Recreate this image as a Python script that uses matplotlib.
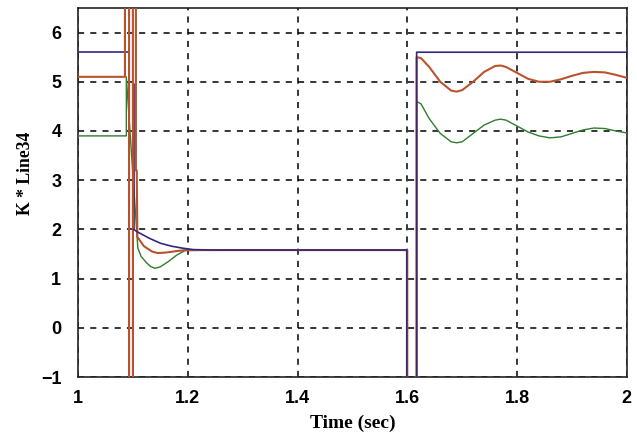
import matplotlib
matplotlib.use("Agg")
import matplotlib.pyplot as plt

# ---- data ----
navy_t = [1.0, 1.093, 1.093, 1.1, 1.1, 1.1015, 1.1015, 1.108, 1.13, 1.15, 1.17, 1.19, 1.21, 1.25, 1.599, 1.599, 1.617, 1.617, 2.0]
navy_v = [5.6, 5.6, -3.0, -3.0, 4.95, 4.95, 2.0, 1.95, 1.82, 1.72, 1.66, 1.62, 1.59, 1.58, 1.58, -3.0, -3.0, 5.6, 5.6]

orange_t = [1.0, 1.0855, 1.0855, 1.093, 1.093, 1.1, 1.1, 1.1055, 1.1055, 1.107, 1.108, 1.108, 1.12, 1.135, 1.145, 1.16, 1.18, 1.195, 1.25, 1.6,
            1.6, 1.617, 1.617, 1.625, 1.64, 1.66, 1.68, 1.69, 1.70, 1.72, 1.74, 1.76, 1.77, 1.78, 1.80, 1.82, 1.84, 1.86,
            1.88, 1.90, 1.92, 1.94, 1.96, 1.98, 2.0]
orange_v = [5.1, 5.1, 8.0, 8.0, -3.0, -3.0, 8.0, 8.0, 3.2, 3.2, 2.0, 1.85, 1.66, 1.55, 1.52, 1.53, 1.56, 1.58, 1.58, 1.58,
            -3.0, -3.0, 5.5, 5.48, 5.3, 5.0, 4.82, 4.8, 4.83, 5.0, 5.2, 5.32, 5.33, 5.3, 5.18, 5.06, 5.0, 5.0,
            5.05, 5.12, 5.18, 5.2, 5.19, 5.14, 5.08]

green_t = [1.0, 1.088, 1.088, 1.109, 1.115, 1.125, 1.132, 1.14, 1.15, 1.165, 1.18, 1.195, 1.25, 1.6,
           1.6, 1.617, 1.617, 1.625, 1.64, 1.66, 1.68, 1.69, 1.70, 1.72, 1.74, 1.76, 1.77, 1.78, 1.80, 1.82, 1.84, 1.86,
           1.88, 1.90, 1.92, 1.94, 1.96, 1.98, 2.0]
green_v = [3.9, 3.9, 5.1, 1.62, 1.45, 1.32, 1.25, 1.21, 1.24, 1.35, 1.48, 1.57, 1.58, 1.58,
           -3.0, -3.0, 4.6, 4.55, 4.25, 3.95, 3.78, 3.76, 3.78, 3.95, 4.12, 4.22, 4.24, 4.22, 4.1, 3.98, 3.9, 3.86,
           3.88, 3.95, 4.02, 4.06, 4.05, 4.0, 3.96]

x_ticks = [1, 1.2, 1.4, 1.6, 1.8, 2]
x_ticklabels = ["1", "1.2", "1.4", "1.6", "1.8", "2"]
y_ticks = [-1, 0, 1, 2, 3, 4, 5, 6]
y_ticklabels = ["\u22121", "0", "1", "2", "3", "4", "5", "6"]

fig = plt.figure(figsize=(6.37, 4.40), dpi=100)
ax = fig.add_axes([0.1225, 0.143, 0.8615, 0.839])

NAVY = "#33287f"
ORANGE = "#b9532e"
GREEN = "#2f7d2f"

ax.plot(green_t, green_v, color=GREEN, lw=1.0, zorder=3)
# early part of the navy trace sits underneath the orange spikes
ax.plot(navy_t[:7], navy_v[:7], color=NAVY, lw=1.2, zorder=3.5)
ax.plot(orange_t, orange_v, color=ORANGE, lw=1.5, zorder=4)
ax.plot(navy_t[6:], navy_v[6:], color=NAVY, lw=1.2, zorder=5)

ax.set_xlim(1, 2)
ax.set_ylim(-1, 6.5)
ax.set_xticks(x_ticks)
ax.set_xticklabels(x_ticklabels)
ax.set_yticks(y_ticks)
ax.set_yticklabels(y_ticklabels)

ax.grid(True, color="black", linestyle=(0, (4, 4)), linewidth=1.1)
for s in ax.spines.values():
    s.set_linewidth(1.2)
    s.set_color("#222222")

ax.tick_params(direction="in", length=0)
ax.tick_params(axis="x", pad=9)
ax.tick_params(axis="y", pad=12)
for lab in ax.get_xticklabels() + ax.get_yticklabels():
    lab.set_fontfamily("Liberation Sans")
    lab.set_fontweight("bold")
    lab.set_fontsize(13)

ax.set_xlabel("Time (sec)", fontfamily="Liberation Serif", fontweight="bold", fontsize=14)
ax.set_ylabel("K * Line34", fontfamily="Liberation Serif", fontweight="bold", fontsize=12.7)
ax.xaxis.set_label_coords(0.5, -0.102)
ax.yaxis.set_label_coords(-0.08, 0.553)

fig.savefig("out.png", dpi=100)
